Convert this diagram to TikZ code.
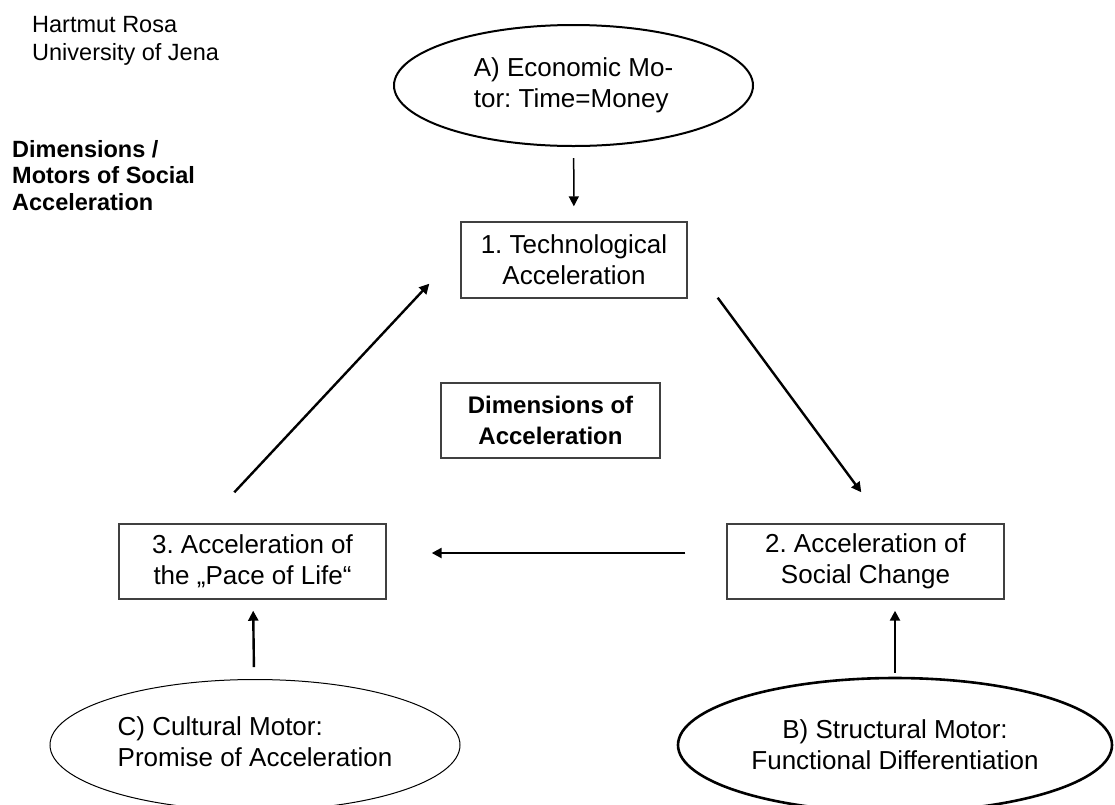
\documentclass[tikz,border=0pt]{standalone}
\usepackage{fontspec}
\setmainfont{Liberation Sans}
\usetikzlibrary{arrows.meta,positioning,shapes.geometric,calc}
\tikzset{
  box/.style={draw=black!75, line width=1.4pt, align=center, inner sep=0pt, font=\fontsize{26}{31}\selectfont},
  motor/.style={draw, ellipse, inner sep=0pt, font=\fontsize{26}{31}\selectfont},
  note/.style={anchor=north west, align=left, inner sep=0pt},
  arrow/.style={-{Triangle[length=10pt,width=10pt]}, line width=2.4pt}
}
\frenchspacing

\begin{document}
\begin{tikzpicture}[x=1pt,y=-1pt]
    \useasboundingbox (0,0) rectangle (1115,804);

    \node[note, font=\fontsize{23.5}{28}\selectfont] (author) at (32,16) {Hartmut Rosa\\ University of Jena};
    \node[note, font=\bfseries\fontsize{23.5}{26.5}\selectfont] (title) at (12,140) {Dimensions /\\ Motors of Social\\ Acceleration};

    % dimensions
    \node[box, minimum width=226pt, minimum height=76pt] (tech) at (574,260) {1. Technological\\ Acceleration};
    \node[box, minimum width=219pt, minimum height=75pt, font=\bfseries\fontsize{24}{31}\selectfont] (dims) at (550.5,420.5) {Dimensions of\\ Acceleration};
    \node[box, minimum width=267pt, minimum height=75pt] (pace) at (252.5,561.5) {3. Acceleration of\\ the „Pace of Life“};
    \node[box, minimum width=277pt, minimum height=75pt] (social) at (865.5,561.5) {2. Acceleration of\\ Social Change};

    % motors
    \node[motor, line width=2pt, minimum width=359pt, minimum height=121pt, align=left] (econ) at (573.5,85.5) {A) Economic Mo-\\ tor: Time=Money};
    \node[motor, line width=1pt, minimum width=410pt, minimum height=131pt] (cult) at (255,745) {\raisebox{6pt}{\begin{tabular}{@{}l@{}}C) Cultural Motor:\\ Promise of Acceleration\end{tabular}}};
    \node[motor, line width=2.6pt, minimum width=434pt, minimum height=134pt, align=center] (struct) at (895,745) {B) Structural Motor:\\ Functional Differentiation};

    \draw[arrow, line width=1.5pt, shorten <=11pt, shorten >=15pt] (econ) -- (tech);
    \draw[arrow] ([xshift=30pt,yshift=1pt]tech.south east) -- ([xshift=135pt,yshift=31pt]social.north west);
    \draw[arrow, shorten <=41pt, shorten >=45pt] ([yshift=8.5pt]social.west) -- ([yshift=8.5pt]pace.east);
    \draw[arrow] ([xshift=116pt,yshift=31pt]pace.north west) -- ([xshift=-31pt,yshift=15pt]tech.south west);
    \draw[arrow, shorten <=12pt, shorten >=11pt] (cult) -- (pace);
    \draw[arrow, shorten <=4pt, shorten >=11pt] (struct) -- (struct |- social.south);
  \end{tikzpicture}
\end{document}
